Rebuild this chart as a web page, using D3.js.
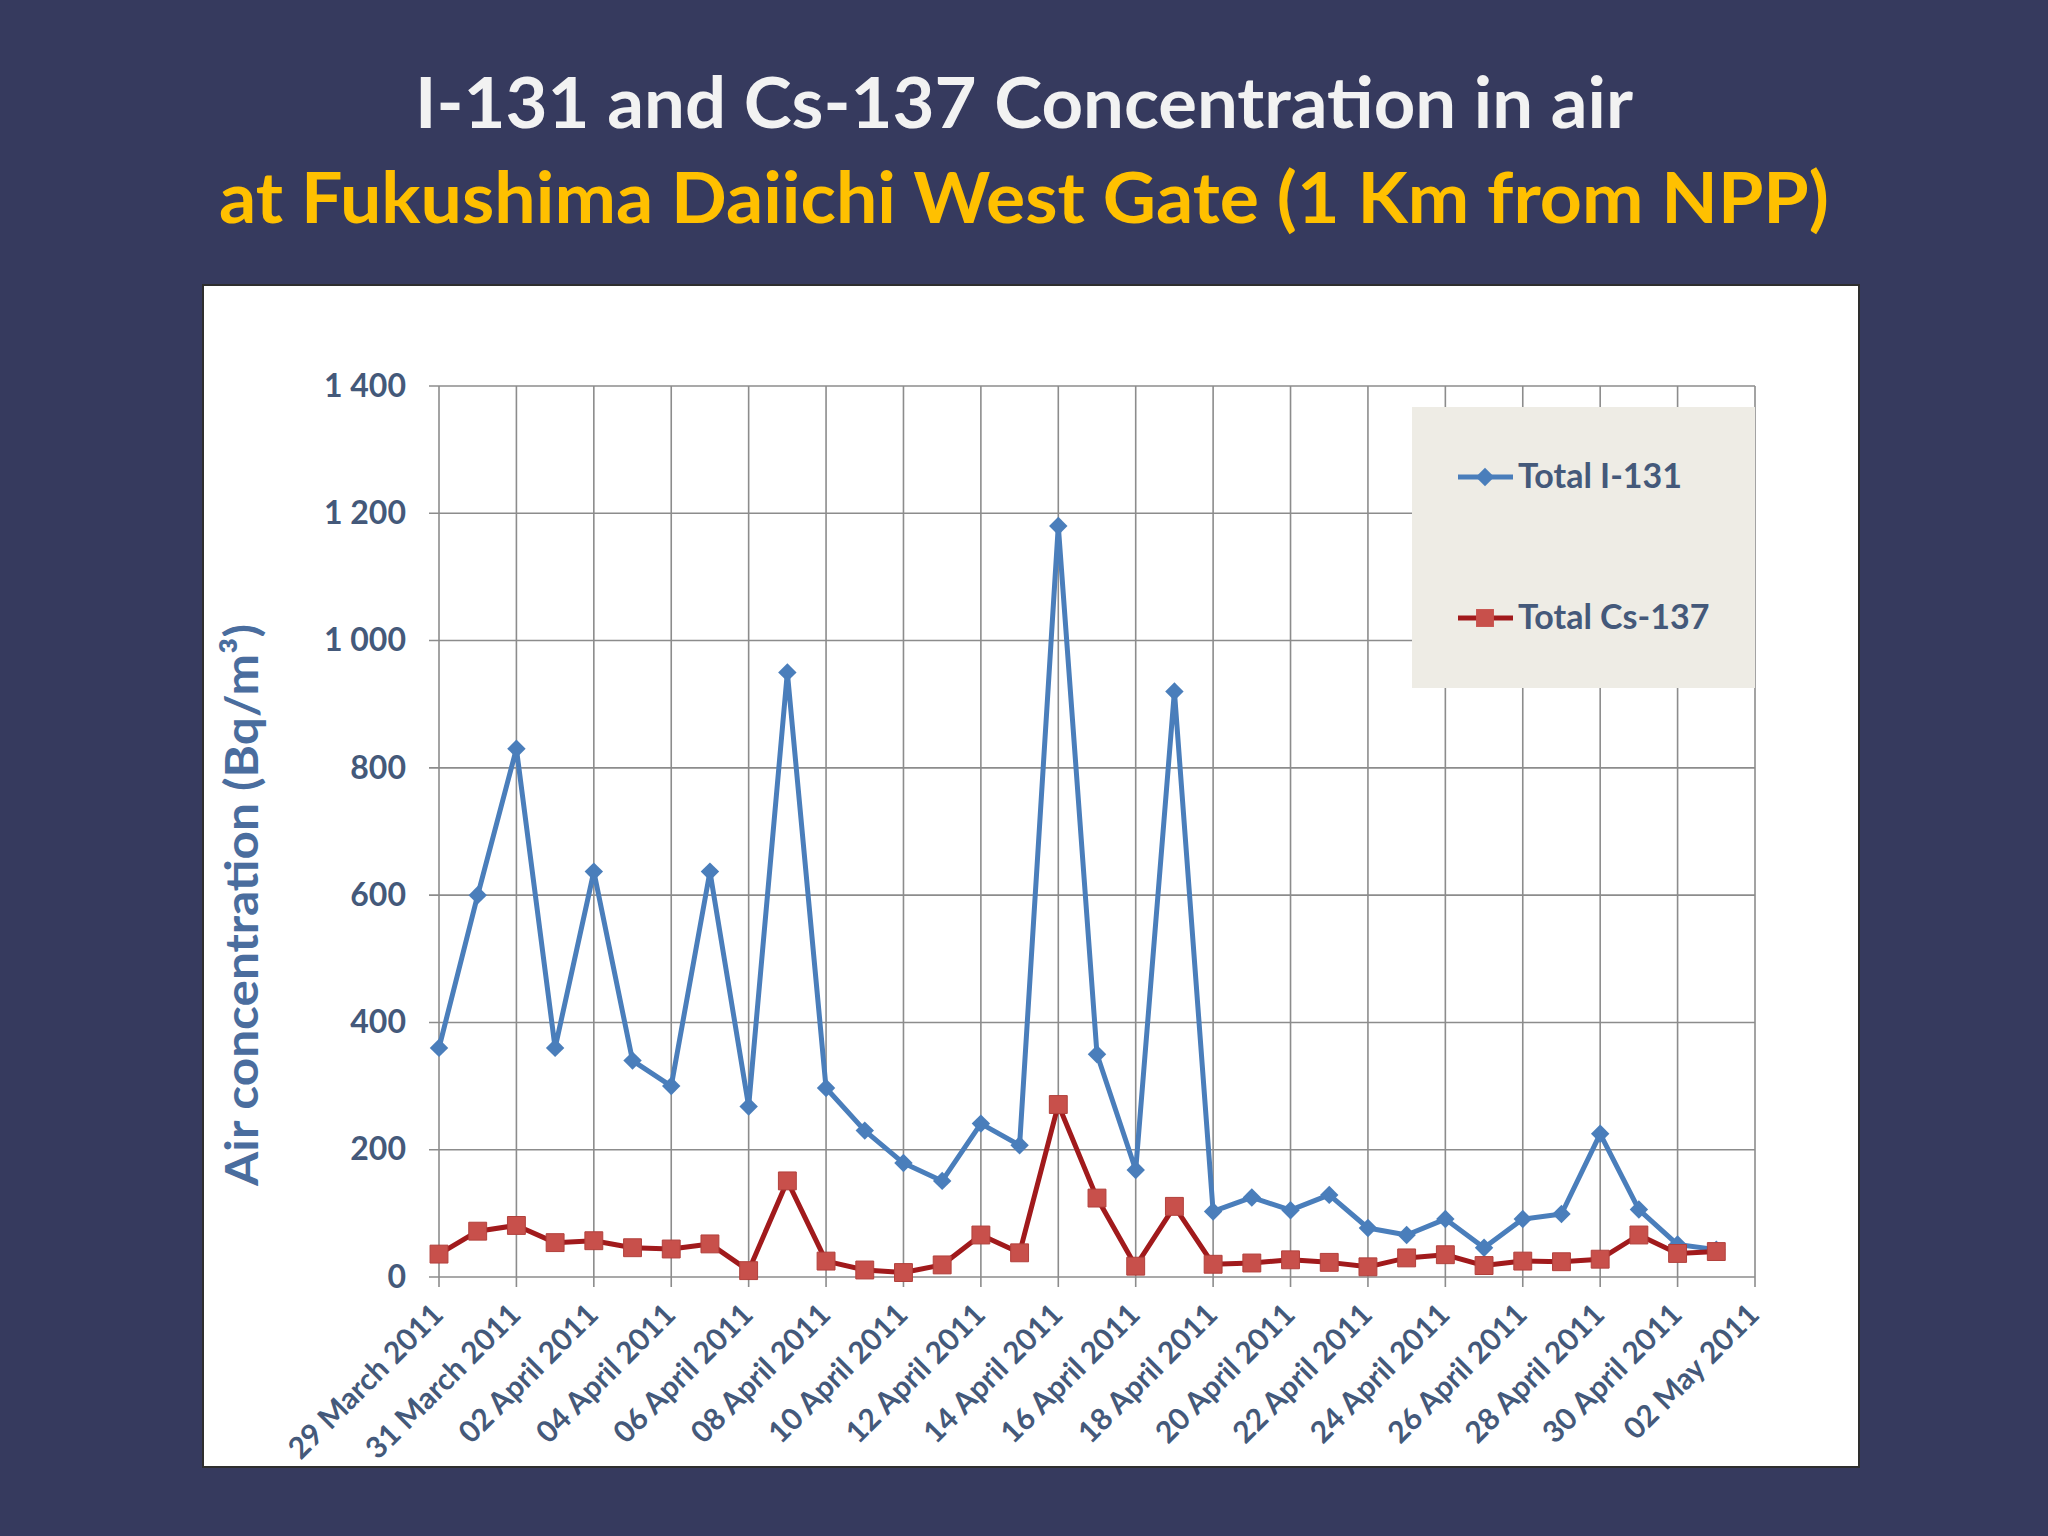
<!DOCTYPE html>
<html>
<head>
<meta charset="utf-8">
<script src="https://cdn.jsdelivr.net/npm/d3@7"></script>
<style>
    body { margin: 0; background: #363a5e; }
</style>
</head>
<body>
<div class="responsive-svg-container"></div>
<script>
// Data (one value per day, Bq/m3)
const dates = [
    "2011-03-29", "2011-03-30", "2011-03-31", "2011-04-01", "2011-04-02", "2011-04-03",
    "2011-04-04", "2011-04-05", "2011-04-06", "2011-04-07", "2011-04-08", "2011-04-09",
    "2011-04-10", "2011-04-11", "2011-04-12", "2011-04-13", "2011-04-14", "2011-04-15",
    "2011-04-16", "2011-04-17", "2011-04-18", "2011-04-19", "2011-04-20", "2011-04-21",
    "2011-04-22", "2011-04-23", "2011-04-24", "2011-04-25", "2011-04-26", "2011-04-27",
    "2011-04-28", "2011-04-29", "2011-04-30", "2011-05-01"
];
const i131 = [360, 600, 830, 360, 637, 340, 300, 637, 268, 950, 297, 230, 179, 151, 241, 207, 1180,
    350, 168, 920, 103, 125, 105, 129, 77, 66, 91, 46, 91, 99, 225, 106, 51, 43];
const cs137 = [36, 72, 81, 54, 57, 46, 44, 52, 10, 151, 25, 11, 7, 19, 66, 38, 271,
    124, 17, 111, 20, 22, 27, 23, 16, 30, 35, 18, 25, 24, 28, 66, 37, 40];

const xTickLabels = [
    "29 March 2011", "31 March 2011", "02 April 2011", "04 April 2011", "06 April 2011",
    "08 April 2011", "10 April 2011", "12 April 2011", "14 April 2011", "16 April 2011",
    "18 April 2011", "20 April 2011", "22 April 2011", "24 April 2011", "26 April 2011",
    "28 April 2011", "30 April 2011", "02 May 2011"
];
const yTicks = [0, 200, 400, 600, 800, 1000, 1200, 1400];
const seriesNames = ["Total I-131", "Total Cs-137"];

const parseDay = d3.timeParse("%Y-%m-%d");
const parseTick = d3.timeParse("%d %B %Y");
const tickDates = xTickLabels.map(parseTick);

const textColor = "#44597a";
const font = "Lato, 'Open Sans', sans-serif";

// Create the SVG
const svg = d3.select(".responsive-svg-container")
    .append("svg")
        .attr("width", 2048)
        .attr("height", 1536)
        .attr("viewBox", "0 0 2048 1536");

svg
    .append("rect")
        .attr("width", 2048)
        .attr("height", 1536)
        .attr("fill", "#363a5e");

// Titles
svg
    .append("text")
        .text("I-131 and Cs-137 Concentration in air")
        .attr("x", 1024)
        .attr("y", 128)
        .attr("text-anchor", "middle")
        .attr("textLength", 1218)
        .attr("lengthAdjust", "spacingAndGlyphs")
        .style("font-family", font)
        .style("font-weight", "bold")
        .style("font-size", "70px")
        .style("fill", "#f2f2f2");

svg
    .append("text")
        .text("at Fukushima Daiichi West Gate (1 Km from NPP)")
        .attr("x", 1024)
        .attr("y", 223)
        .attr("text-anchor", "middle")
        .attr("textLength", 1610)
        .attr("lengthAdjust", "spacingAndGlyphs")
        .style("font-family", font)
        .style("font-weight", "bold")
        .style("font-size", "70px")
        .style("fill", "#ffc000");

// White chart box
svg
    .append("rect")
        .attr("x", 203)
        .attr("y", 285)
        .attr("width", 1656)
        .attr("height", 1182)
        .attr("fill", "#ffffff")
        .attr("stroke", "#2e2e2e")
        .attr("stroke-width", 2);

// Scales
const xScale = d3.scaleTime()
    .domain([tickDates[0], tickDates[tickDates.length - 1]])
    .range([439, 1755]);

const yScale = d3.scaleLinear()
    .domain([0, 1400])
    .range([1277, 386]);

const locale = d3.formatLocale({ decimal: ".", thousands: " ", grouping: [3], currency: ["", ""] });
const yFormat = locale.format(",");

const gridColor = "#8c8c8c";

// Gridlines
svg
    .append("g")
    .selectAll("line")
    .data(yTicks)
    .join("line")
        .attr("x1", 429)
        .attr("x2", xScale.range()[1])
        .attr("y1", d => yScale(d))
        .attr("y2", d => yScale(d))
        .attr("stroke", gridColor)
        .attr("stroke-width", 1.6);

svg
    .append("g")
    .selectAll("line")
    .data(tickDates)
    .join("line")
        .attr("x1", d => xScale(d))
        .attr("x2", d => xScale(d))
        .attr("y1", yScale.range()[1])
        .attr("y2", 1287)
        .attr("stroke", gridColor)
        .attr("stroke-width", 1.6);

// Y axis labels
const yAxis = d3.axisLeft(yScale)
    .tickValues(yTicks)
    .tickFormat(yFormat)
    .tickSize(0)
    .tickPadding(33);

svg
    .append("g")
        .attr("transform", `translate(${xScale.range()[0]}, 0)`)
        .call(yAxis)
        .call(g => g.select(".domain").remove())
        .call(g => g.selectAll("text")
            .style("font-family", font)
            .style("font-weight", "bold")
            .style("font-size", "32px")
            .style("fill", textColor));

// X axis labels
const xAxis = d3.axisBottom(xScale)
    .tickValues(tickDates)
    .tickFormat((d, i) => xTickLabels[i])
    .tickSize(0);

svg
    .append("g")
        .attr("transform", `translate(0, ${yScale.range()[0]})`)
        .call(xAxis)
        .call(g => g.select(".domain").remove())
        .call(g => g.selectAll("text")
            .attr("x", 8)
            .attr("y", 0)
            .attr("dy", 0)
            .attr("transform", "translate(0, 45) rotate(-45)")
            .attr("text-anchor", "end")
            .style("font-family", font)
            .style("font-weight", "bold")
            .style("font-size", "30px")
            .style("fill", textColor));

// Y axis title
svg
    .append("text")
        .text("Air concentration (Bq/m³)")
        .attr("transform", "translate(258, 905) rotate(-90)")
        .attr("text-anchor", "middle")
        .attr("textLength", 562)
        .attr("lengthAdjust", "spacingAndGlyphs")
        .style("font-family", font)
        .style("font-weight", "bold")
        .style("font-size", "46px")
        .style("fill", "#4a6d9e");

// Series
const i131Data = dates.map((d, i) => ({ date: parseDay(d), value: i131[i] }));
const cs137Data = dates.map((d, i) => ({ date: parseDay(d), value: cs137[i] }));

const line = d3.line()
    .x(d => xScale(d.date))
    .y(d => yScale(d.value));

const diamond = d3.symbol(d3.symbolSquare, 170);
const square = d3.symbol(d3.symbolSquare, 320);

const blue = "#4a7ebb";
const redLine = "#a11a1c";
const redFill = "#c8504b";

svg
    .append("path")
        .datum(i131Data)
        .attr("d", line)
        .attr("fill", "none")
        .attr("stroke", blue)
        .attr("stroke-width", 5)
        .attr("stroke-linejoin", "round");

svg
    .append("g")
    .selectAll("path")
    .data(i131Data)
    .join("path")
        .attr("d", diamond)
        .attr("transform", d => `translate(${xScale(d.date)}, ${yScale(d.value)}) rotate(45)`)
        .attr("fill", blue);

svg
    .append("path")
        .datum(cs137Data)
        .attr("d", line)
        .attr("fill", "none")
        .attr("stroke", redLine)
        .attr("stroke-width", 5)
        .attr("stroke-linejoin", "round");

svg
    .append("g")
    .selectAll("path")
    .data(cs137Data)
    .join("path")
        .attr("d", square)
        .attr("transform", d => `translate(${xScale(d.date)}, ${yScale(d.value)})`)
        .attr("fill", redFill)
        .attr("stroke", "#b2403c")
        .attr("stroke-width", 1);

// Legend
const legend = svg
    .append("g")
        .attr("transform", "translate(1412, 407)");

legend
    .append("rect")
        .attr("width", 343)
        .attr("height", 281)
        .attr("fill", "#eeece5");

const legendItems = [
    { name: seriesNames[0], color: blue, symbol: diamond, rotate: 45, fill: blue, y: 70 },
    { name: seriesNames[1], color: redLine, symbol: square, rotate: 0, fill: redFill, y: 211 }
];

const item = legend
    .selectAll("g")
    .data(legendItems)
    .join("g")
        .attr("transform", d => `translate(0, ${d.y})`);

item
    .append("line")
        .attr("x1", 46)
        .attr("x2", 101)
        .attr("stroke", d => d.color)
        .attr("stroke-width", 5);

item
    .append("path")
        .attr("d", d => d.symbol())
        .attr("transform", d => `translate(73, 0) rotate(${d.rotate})`)
        .attr("fill", d => d.fill);

item
    .append("text")
        .text(d => d.name)
        .attr("x", 106)
        .attr("y", 11)
        .style("font-family", font)
        .style("font-weight", "bold")
        .style("font-size", "34px")
        .style("fill", textColor);
</script>
</body>
</html>
